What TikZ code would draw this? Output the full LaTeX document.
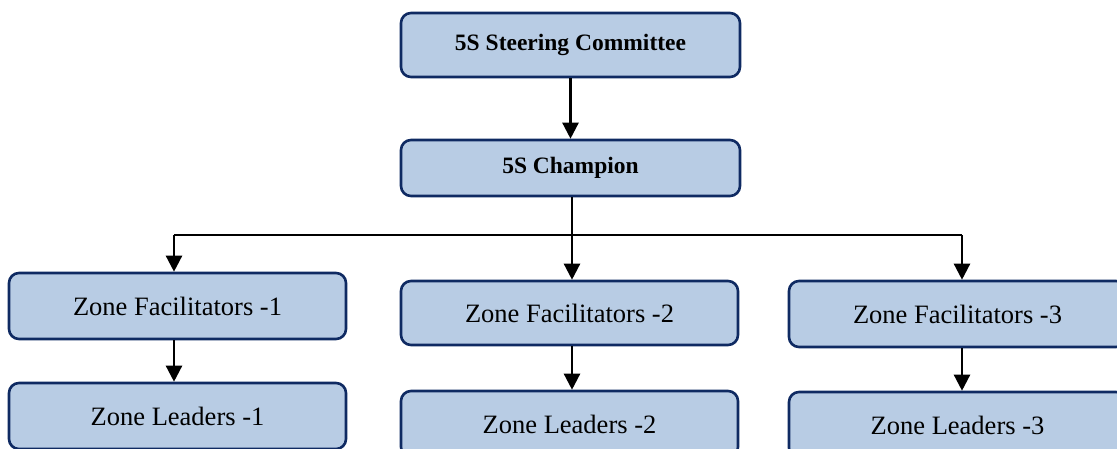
\documentclass[tikz,border=0pt]{standalone}
\usepackage{fontspec}
\setmainfont{Liberation Serif}
\usetikzlibrary{arrows.meta}
\definecolor{boxfill}{HTML}{B8CCE4}
\definecolor{boxline}{HTML}{0F2A62}
\tikzset{
  orgbox/.style={draw=boxline, line width=2.6pt, fill=boxfill, rounded corners=10pt,
    minimum width=337pt, inner sep=0pt, align=center},
  headbox/.style={orgbox, font=\fontsize{23.5}{26}\selectfont\bfseries},
  zonebox/.style={orgbox, minimum height=66pt, font=\fontsize{26.5}{30}\selectfont},
  link/.style={line width=2.4pt, -{Triangle[length=16pt,width=16pt]}},
  bus/.style={line width=2pt}
}
\begin{document}
\begin{tikzpicture}[x=1pt,y=-1pt]
  \useasboundingbox (0,0) rectangle (1117,448);
  \clip (0,0) rectangle (1117,448);

  % management levels
  \node[headbox, minimum width=339pt, minimum height=64pt] (steer) at (570.5,45) {5S Steering Committee};
  \node[headbox, minimum width=339pt, minimum height=56pt] (champ) at (570.5,168) {5S Champion};

  % zone facilitators
  \node[zonebox] (fz1) at (177.5,306) {Zone Facilitators -1};
  \node[zonebox, minimum height=64pt] (fz2) at (569.5,313) {Zone Facilitators -2};
  \node[zonebox] (fz3) at (957.5,314) {Zone Facilitators -3};

  % zone leaders
  \node[zonebox] (zl1) at (177.5,416) {Zone Leaders -1};
  \node[zonebox] (zl2) at (569.5,424) {Zone Leaders -2};
  \node[zonebox] (zl3) at (957.5,425) {Zone Leaders -3};

  % connectors
  \draw[link] (steer.south) -- (champ.north);
  \coordinate (split) at (572,235);
  \coordinate (leftend) at (174,235);
  \coordinate (rightend) at (962,235);
  \draw[bus] (champ.south -| split) -- (split);
  \draw[bus] (leftend) -- (rightend);
  \draw[link] (leftend) -- (leftend |- fz1.north);
  \draw[link] (split) -- (split |- fz2.north);
  \draw[link] (rightend) -- (rightend |- fz3.north);

  \draw[link] (fz1.south -| leftend) -- (zl1.north -| leftend);
  \draw[link] (fz2.south -| split) -- (zl2.north -| split);
  \draw[link] (fz3.south -| rightend) -- (zl3.north -| rightend);
\end{tikzpicture}
\end{document}
